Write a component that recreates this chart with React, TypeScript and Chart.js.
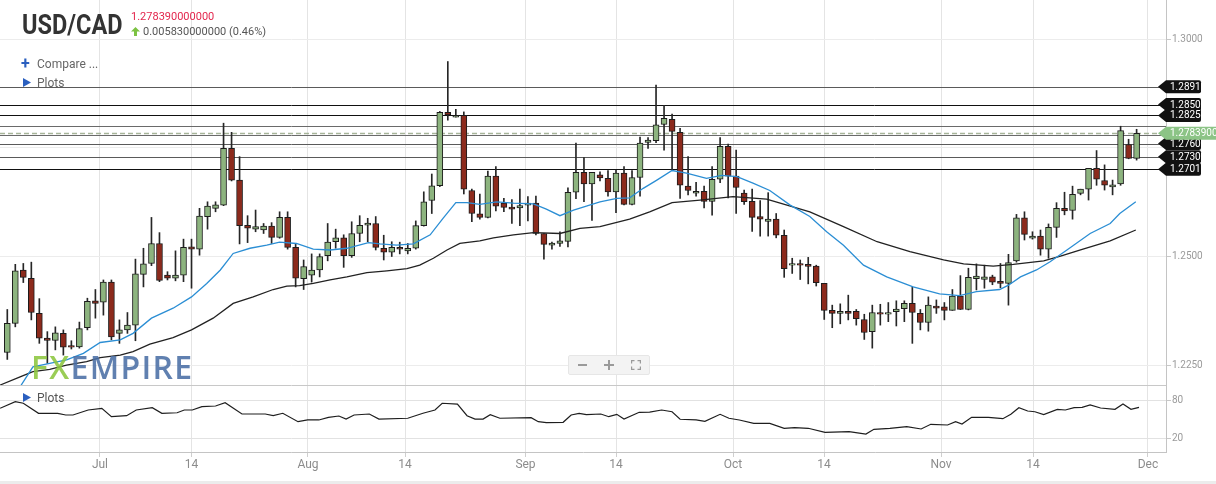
import React, { useEffect, useRef } from 'react';
import { Chart, registerables } from 'chart.js';

Chart.register(...registerables);
Chart.defaults.font.family = 'Roboto, sans-serif';

// ---------------- data ----------------
const opens = [
  1.2279, 1.2346, 1.2469, 1.2450, 1.2369, 1.2312, 1.2307, 1.2323, 1.2295, 1.2292,
  1.2336, 1.2398, 1.2395, 1.2441, 1.2323, 1.2331, 1.2342, 1.2459, 1.2484, 1.2530,
  1.2457, 1.2450, 1.2457, 1.2522, 1.2517, 1.2592, 1.2611, 1.2618, 1.2749, 1.2676,
  1.2572, 1.2563, 1.2561, 1.2570, 1.2544, 1.2590, 1.2521, 1.2449, 1.2457, 1.2469,
  1.2502, 1.2534, 1.2543, 1.2502, 1.2553, 1.2572, 1.2576, 1.2519, 1.2510, 1.2521,
  1.2513, 1.2519, 1.2571, 1.2629, 1.2663, 1.2832, 1.2821, 1.2825, 1.2652, 1.2598,
  1.2590, 1.2685, 1.2623, 1.2614, 1.2612, 1.2618, 1.2623, 1.2553, 1.2526, 1.2530,
  1.2535, 1.2648, 1.2694, 1.2667, 1.2688, 1.2680, 1.2649, 1.2692, 1.2620, 1.2682,
  1.2763, 1.2767, 1.2804, 1.2816, 1.2786, 1.2662, 1.2646, 1.2650, 1.2627, 1.2678,
  1.2754, 1.2685, 1.2646, 1.2627, 1.2592, 1.2581, 1.2586, 1.2549, 1.2480, 1.2484,
  1.2482, 1.2478, 1.2438, 1.2376, 1.2369, 1.2374, 1.2374, 1.2355, 1.2327, 1.2371,
  1.2367, 1.2373, 1.2380, 1.2392, 1.2369, 1.2348, 1.2386, 1.2384, 1.2376, 1.2409,
  1.2378, 1.2449, 1.2447, 1.2453, 1.2443, 1.2438, 1.2490, 1.2589, 1.2542, 1.2547,
  1.2517, 1.2567, 1.2611, 1.2606, 1.2645, 1.2655, 1.2703, 1.2675, 1.2660, 1.2667,
  1.2758, 1.2726,
];
const highs = [
  1.2378, 1.2482, 1.2484, 1.2487, 1.2403, 1.2327, 1.2338, 1.2331, 1.2306, 1.2349,
  1.2404, 1.2424, 1.2446, 1.2446, 1.2354, 1.2371, 1.2494, 1.2519, 1.2590, 1.2555,
  1.2465, 1.2513, 1.2540, 1.2540, 1.2611, 1.2626, 1.2626, 1.2807, 1.2786, 1.2730,
  1.2594, 1.2607, 1.2576, 1.2578, 1.2603, 1.2603, 1.2530, 1.2492, 1.2506, 1.2506,
  1.2576, 1.2563, 1.2550, 1.2580, 1.2594, 1.2588, 1.2592, 1.2549, 1.2534, 1.2533,
  1.2530, 1.2582, 1.2649, 1.2690, 1.2834, 1.2949, 1.2839, 1.2833, 1.2655, 1.2644,
  1.2697, 1.2707, 1.2634, 1.2631, 1.2655, 1.2638, 1.2639, 1.2553, 1.2533, 1.2557,
  1.2658, 1.2761, 1.2728, 1.2694, 1.2695, 1.2698, 1.2699, 1.2707, 1.2698, 1.2775,
  1.2774, 1.2895, 1.2848, 1.2828, 1.2795, 1.2730, 1.2671, 1.2662, 1.2707, 1.2774,
  1.2759, 1.2745, 1.2653, 1.2655, 1.2629, 1.2647, 1.2599, 1.2561, 1.2496, 1.2492,
  1.2498, 1.2480, 1.2438, 1.2388, 1.2391, 1.2411, 1.2378, 1.2367, 1.2388, 1.2390,
  1.2394, 1.2398, 1.2398, 1.2430, 1.2378, 1.2407, 1.2400, 1.2394, 1.2424, 1.2456,
  1.2473, 1.2483, 1.2480, 1.2457, 1.2484, 1.2505, 1.2597, 1.2603, 1.2557, 1.2561,
  1.2575, 1.2624, 1.2648, 1.2662, 1.2655, 1.2703, 1.2744, 1.2711, 1.2676, 1.2800,
  1.2770, 1.2793,
];
const lows = [
  1.2263, 1.2338, 1.2440, 1.2354, 1.2300, 1.2254, 1.2285, 1.2273, 1.2287, 1.2289,
  1.2331, 1.2358, 1.2365, 1.2308, 1.2300, 1.2323, 1.2306, 1.2430, 1.2479, 1.2442,
  1.2446, 1.2444, 1.2442, 1.2427, 1.2503, 1.2563, 1.2603, 1.2617, 1.2674, 1.2529,
  1.2532, 1.2557, 1.2553, 1.2530, 1.2542, 1.2517, 1.2430, 1.2424, 1.2441, 1.2453,
  1.2490, 1.2519, 1.2475, 1.2498, 1.2534, 1.2534, 1.2515, 1.2492, 1.2500, 1.2506,
  1.2506, 1.2517, 1.2570, 1.2599, 1.2661, 1.2814, 1.2821, 1.2644, 1.2580, 1.2586,
  1.2589, 1.2605, 1.2603, 1.2576, 1.2571, 1.2582, 1.2550, 1.2494, 1.2517, 1.2523,
  1.2522, 1.2633, 1.2626, 1.2583, 1.2674, 1.2639, 1.2601, 1.2619, 1.2619, 1.2639,
  1.2749, 1.2762, 1.2745, 1.2699, 1.2634, 1.2642, 1.2639, 1.2612, 1.2595, 1.2670,
  1.2635, 1.2599, 1.2620, 1.2558, 1.2547, 1.2547, 1.2543, 1.2452, 1.2461, 1.2447,
  1.2437, 1.2432, 1.2355, 1.2336, 1.2345, 1.2354, 1.2342, 1.2309, 1.2289, 1.2342,
  1.2350, 1.2340, 1.2350, 1.2300, 1.2331, 1.2328, 1.2369, 1.2354, 1.2376, 1.2378,
  1.2377, 1.2423, 1.2427, 1.2435, 1.2428, 1.2388, 1.2487, 1.2538, 1.2540, 1.2503,
  1.2496, 1.2544, 1.2596, 1.2586, 1.2642, 1.2630, 1.2664, 1.2653, 1.2642, 1.2664,
  1.2725, 1.2722,
];
const closes = [
  1.2346, 1.2467, 1.2452, 1.2371, 1.2312, 1.2307, 1.2324, 1.2291, 1.2291, 1.2334,
  1.2397, 1.2392, 1.2441, 1.2315, 1.2331, 1.2342, 1.2460, 1.2483, 1.2530, 1.2445,
  1.2450, 1.2457, 1.2521, 1.2517, 1.2593, 1.2616, 1.2619, 1.2749, 1.2676, 1.2571,
  1.2565, 1.2569, 1.2570, 1.2544, 1.2590, 1.2521, 1.2450, 1.2477, 1.2469, 1.2500,
  1.2533, 1.2543, 1.2502, 1.2553, 1.2572, 1.2577, 1.2521, 1.2510, 1.2521, 1.2517,
  1.2519, 1.2571, 1.2626, 1.2663, 1.2832, 1.2826, 1.2825, 1.2655, 1.2599, 1.2590,
  1.2685, 1.2616, 1.2613, 1.2609, 1.2617, 1.2623, 1.2553, 1.2528, 1.2531, 1.2536,
  1.2648, 1.2694, 1.2667, 1.2694, 1.2681, 1.2649, 1.2692, 1.2620, 1.2682, 1.2761,
  1.2768, 1.2803, 1.2818, 1.2788, 1.2664, 1.2652, 1.2650, 1.2627, 1.2678, 1.2754,
  1.2685, 1.2659, 1.2626, 1.2590, 1.2586, 1.2586, 1.2549, 1.2472, 1.2484, 1.2480,
  1.2477, 1.2440, 1.2376, 1.2369, 1.2374, 1.2369, 1.2357, 1.2325, 1.2371, 1.2367,
  1.2371, 1.2379, 1.2392, 1.2371, 1.2348, 1.2388, 1.2381, 1.2376, 1.2409, 1.2378,
  1.2452, 1.2455, 1.2453, 1.2441, 1.2438, 1.2486, 1.2589, 1.2551, 1.2547, 1.2517,
  1.2567, 1.2611, 1.2605, 1.2643, 1.2655, 1.2703, 1.2678, 1.2664, 1.2665, 1.2790,
  1.2726, 1.27839,
];

// fast (blue) moving average: candle position, value
const fastMaIdx = [1.6, 3.2, 5.3, 7.4, 9.5, 11.6, 14.1, 15.7, 18.0, 20.7, 23.0, 24.9, 26.6, 28.2, 30.3, 32.4, 34.0, 36.1, 38.2, 40.3, 42.4, 45.1, 46.5, 48.6, 50.7, 52.8, 54.4, 56.0, 57.4, 59.0, 61.1, 63.2, 65.7, 67.3, 69.0, 70.7, 74.0, 76.1, 77.7, 79.4, 81.1, 83.0, 84.8, 87.3, 89.2, 91.1, 93.1, 95.2, 97.7, 100.2, 102.3, 104.4, 106.9, 109.8, 113.1, 116.4, 118.9, 121.0, 123.9, 125.0, 126.5, 128.5, 130.2, 132.3, 135.2, 137.7, 138.9, 140.9];
const fastMaVal = [1.2200, 1.2246, 1.2254, 1.2262, 1.2277, 1.2302, 1.2308, 1.2323, 1.2358, 1.2381, 1.2407, 1.2438, 1.2469, 1.2507, 1.2519, 1.2526, 1.2533, 1.2530, 1.2517, 1.2515, 1.2519, 1.2532, 1.2529, 1.2526, 1.2529, 1.2550, 1.2588, 1.2624, 1.2624, 1.2620, 1.2626, 1.2623, 1.2621, 1.2609, 1.2594, 1.2607, 1.2626, 1.2634, 1.2635, 1.2657, 1.2676, 1.2698, 1.2692, 1.2680, 1.2687, 1.2684, 1.2669, 1.2652, 1.2619, 1.2592, 1.2557, 1.2526, 1.2480, 1.2453, 1.2430, 1.2414, 1.2410, 1.2419, 1.2424, 1.2434, 1.2453, 1.2469, 1.2488, 1.2515, 1.2553, 1.2576, 1.2599, 1.2626];

// slow (black) moving average
const slowMaIdx = [-0.9, 1.6, 3.2, 5.3, 7.4, 9.9, 11.6, 14.1, 15.7, 17.8, 20.7, 23.0, 25.7, 28.2, 30.7, 33.2, 34.9, 36.5, 38.2, 40.3, 42.4, 44.9, 47.4, 49.9, 51.5, 53.2, 54.9, 56.5, 59.0, 60.7, 63.2, 65.7, 69.0, 71.5, 74.0, 77.7, 80.2, 83.0, 86.5, 90.6, 94.8, 96.5, 100.2, 104.4, 108.6, 112.7, 116.9, 119.4, 123.1, 125.6, 129.4, 131.5, 134.0, 137.7, 140.9];
const slowMaVal = [1.2204, 1.2223, 1.2235, 1.2240, 1.2250, 1.2258, 1.2267, 1.2273, 1.2281, 1.2298, 1.2313, 1.2331, 1.2358, 1.2392, 1.2407, 1.2424, 1.2432, 1.2433, 1.2438, 1.2446, 1.2453, 1.2463, 1.2467, 1.2472, 1.2480, 1.2496, 1.2515, 1.2530, 1.2536, 1.2543, 1.2550, 1.2555, 1.2553, 1.2565, 1.2569, 1.2586, 1.2603, 1.2624, 1.2630, 1.2638, 1.2632, 1.2623, 1.2603, 1.2569, 1.2534, 1.2511, 1.2492, 1.2483, 1.2478, 1.2482, 1.2490, 1.2501, 1.2515, 1.2536, 1.2561];

// lower oscillator panel
const oscIdx = [-0.9, 1.0, 2.0, 3.9, 6.3, 7.3, 8.2, 10.1, 11.8, 13.0, 14.9, 16.1, 18.1, 19.3, 21.2, 22.1, 23.1, 24.3, 26.0, 27.2, 29.3, 32.2, 33.2, 34.4, 36.3, 37.5, 38.9, 40.1, 41.4, 42.3, 43.3, 45.2, 46.4, 50.0, 51.9, 53.4, 54.3, 56.2, 57.4, 58.4, 59.4, 60.3, 61.5, 65.4, 66.3, 67.3, 69.4, 70.4, 71.4, 72.3, 74.1, 75.1, 76.1, 77.0, 78.9, 80.2, 81.7, 83.0, 84.0, 86.0, 87.1, 89.0, 90.1, 91.4, 93.2, 95.2, 97.0, 98.3, 100.0, 102.1, 105.1, 107.2, 108.2, 110.2, 112.3, 114.1, 115.3, 117.4, 118.4, 119.2, 120.4, 122.5, 124.3, 125.3, 126.3, 127.4, 128.3, 129.4, 131.1, 132.1, 133.2, 134.2, 135.2, 136.5, 138.3, 139.3, 140.3, 141.3];
const oscVal = [67.6, 78.1, 75.6, 59.7, 59.7, 57.0, 57.0, 64.9, 67.6, 54.3, 55.9, 64.9, 68.6, 59.7, 60.6, 64.9, 64.9, 70.2, 71.3, 76.5, 58.6, 58.6, 55.9, 59.7, 46.4, 49.1, 49.1, 53.3, 55.4, 50.6, 57.0, 58.6, 50.6, 51.8, 59.7, 64.9, 75.6, 74.4, 55.9, 50.6, 50.6, 57.5, 51.8, 52.7, 46.4, 44.8, 45.4, 57.0, 59.7, 57.5, 58.6, 54.3, 58.1, 50.6, 61.3, 61.7, 64.9, 62.2, 50.2, 49.1, 47.0, 58.1, 51.8, 49.1, 43.8, 43.8, 35.9, 36.8, 35.9, 29.5, 30.5, 26.8, 34.3, 35.9, 38.4, 34.8, 42.2, 41.1, 46.4, 42.7, 53.3, 53.3, 51.1, 58.1, 68.6, 63.3, 62.2, 57.5, 66.0, 64.9, 68.6, 69.2, 72.9, 68.1, 66.0, 74.4, 66.0, 69.2];

// x axis ticks (candle positions of the date labels)
const xTickIdx = [11.57, 23.0, 37.54, 49.66, 64.7, 76.0, 90.61, 101.97, 116.58, 128.07, 142.42];
const xTickLabels = ['Jul', '14', 'Aug', '14', 'Sep', '14', 'Oct', '14', 'Nov', '14', 'Dec'];
const priceTicks = [1.225, 1.25, 1.275, 1.3];
const oscTicks = [20, 80];

// horizontal levels
const levelValues = [1.2891, 1.2850, 1.2825, 1.2800, 1.2780, 1.2760, 1.2730, 1.2701];
const levelLabels = ['1.2891', '1.2850', '1.2825', '', '', '1.2760', '1.2730', '1.2701'];
const lastPrice = 1.27839;
const lastPriceLabel = '1.2783900';

// ---------------- styles ----------------
const levelColors = ['#5a5a5a', '#111', '#111', '#6a6a6a', '#6a6a6a', '#5a5a5a', '#5a5a5a', '#111'];
const GREEN = '#8db47f';
const RED = '#8c2a1c';
const OUTLINE = '#1c1c1c';
const X_MIN = -0.911;
const X_MAX = 144.67;
const PRICE_MIN = 1.22041;
const PRICE_MAX = 1.30907;
const OSC_MIN = -1.73;
const OSC_MAX = 104.6;
const AXIS_W = 50;

const fixY = (s: any) => {
  s.width = AXIS_W;
  s.paddingTop = 0;
  s.paddingBottom = 0;
};

function drawTag(ctx: CanvasRenderingContext2D, cy: number, color: string, text: string, right: number) {
  const tip = 1158;
  const x0 = 1166;
  const h = 6.5;
  ctx.fillStyle = color;
  ctx.beginPath();
  ctx.moveTo(tip, cy);
  ctx.lineTo(x0, cy - h);
  ctx.lineTo(right - 2, cy - h);
  ctx.quadraticCurveTo(right, cy - h, right, cy - h + 2);
  ctx.lineTo(right, cy + h - 2);
  ctx.quadraticCurveTo(right, cy + h, right - 2, cy + h);
  ctx.lineTo(x0, cy + h);
  ctx.closePath();
  ctx.fill();
  ctx.fillStyle = '#fff';
  ctx.font = '10px Roboto, sans-serif';
  ctx.textBaseline = 'middle';
  ctx.textAlign = 'left';
  ctx.fillText(text, 1170, cy + 0.5);
}

const levelPlugin = {
  id: 'levels',
  beforeDatasetsDraw(chart: any) {
    const { ctx, chartArea: a, scales } = chart;
    const y = scales.y;
    ctx.save();
    ctx.lineWidth = 1;
    levelValues.forEach((v, i) => {
      const py = Math.round(y.getPixelForValue(v)) + 0.5;
      ctx.strokeStyle = levelColors[i];
      ctx.beginPath();
      ctx.moveTo(a.left, py);
      ctx.lineTo(a.right, py);
      ctx.stroke();
    });
    const cp = Math.round(y.getPixelForValue(lastPrice)) + 0.5;
    ctx.setLineDash([5, 3]);
    ctx.strokeStyle = '#a7b59a';
    ctx.lineWidth = 1.5;
    ctx.beginPath();
    ctx.moveTo(a.left, cp);
    ctx.lineTo(a.right, cp);
    ctx.stroke();
    ctx.restore();
  },
  afterDraw(chart: any) {
    const { ctx, scales } = chart;
    const y = scales.y;
    ctx.save();
    levelValues.forEach((v, i) => {
      if (!levelLabels[i]) return;
      drawTag(ctx, y.getPixelForValue(v), '#111', levelLabels[i], 1201);
    });
    drawTag(ctx, y.getPixelForValue(lastPrice), '#8cc486', lastPriceLabel, 1220);
    ctx.restore();
  },
};

const separatorPlugin = {
  id: 'separator',
  afterDraw(chart: any) {
    const { ctx, chartArea: a } = chart;
    ctx.save();
    ctx.strokeStyle = '#c8c8c8';
    ctx.lineWidth = 1;
    ctx.beginPath();
    ctx.moveTo(a.left, a.top + 0.5);
    ctx.lineTo(a.right, a.top + 0.5);
    ctx.stroke();
    ctx.restore();
  },
};

export default function App() {
  const mainRef = useRef<HTMLCanvasElement | null>(null);
  const oscRef = useRef<HTMLCanvasElement | null>(null);

  useEffect(() => {
    const bodyData = opens.map((o, i) => ({ x: i, y: [o, closes[i]] }));
    const wickData = opens.map((_, i) => ({ x: i, y: [lows[i], highs[i]] }));
    const bodyColors = opens.map((o, i) => (closes[i] >= o ? GREEN : RED));
    const fastData = fastMaIdx.map((x, i) => ({ x, y: fastMaVal[i] }));
    const slowData = slowMaIdx.map((x, i) => ({ x, y: slowMaVal[i] }));
    const oscData = oscIdx.map((x, i) => ({ x, y: oscVal[i] }));

    const main = new Chart(mainRef.current as HTMLCanvasElement, {
      type: 'bar',
      data: {
        datasets: [
          { type: 'line', label: 'MA fast', data: fastData, borderColor: '#2b8ed4', borderWidth: 1.3, pointRadius: 0, tension: 0, order: 0 } as any,
          { type: 'line', label: 'MA slow', data: slowData, borderColor: '#222', borderWidth: 1.3, pointRadius: 0, tension: 0, order: 1 } as any,
          { type: 'bar', label: 'body', data: bodyData, backgroundColor: bodyColors, borderColor: OUTLINE, borderWidth: 1, borderSkipped: false, barThickness: 6, grouped: false, order: 2 } as any,
          { type: 'bar', label: 'wick', data: wickData, backgroundColor: '#262626', barThickness: 1, grouped: false, order: 3 } as any,
        ],
      },
      options: {
        responsive: false,
        animation: false,
        events: [],
        layout: { padding: 0 },
        plugins: { legend: { display: false }, tooltip: { enabled: false } },
        scales: {
          x: {
            type: 'linear',
            min: X_MIN,
            max: X_MAX,
            offset: false,
            grid: { offset: false, color: '#e4e4e4', drawTicks: false },
            border: { display: false },
            ticks: { display: false },
            afterBuildTicks: (s: any) => { s.ticks = xTickIdx.map((v) => ({ value: v })); },
            afterFit: (s: any) => { s.height = 0; s.paddingLeft = 0; s.paddingRight = 0; },
          } as any,
          y: {
            position: 'right',
            min: PRICE_MIN,
            max: PRICE_MAX,
            grid: { color: '#ececec', tickLength: 5, tickColor: '#c8c8c8' },
            border: { display: true, color: '#c4c4c4' },
            ticks: {
              color: '#9a9a9a',
              font: { size: 10 },
              padding: 1,
              callback: (v: any) => (Math.abs(Number(v) - 1.275) < 1e-6 ? '' : Number(v).toFixed(4)),
            },
            afterBuildTicks: (s: any) => { s.ticks = priceTicks.map((v) => ({ value: v })); },
            afterFit: fixY,
          } as any,
        },
      },
      plugins: [levelPlugin],
    });

    const osc = new Chart(oscRef.current as HTMLCanvasElement, {
      type: 'line',
      data: {
        datasets: [
          { label: 'Oscillator', data: oscData, borderColor: '#1e1e1e', borderWidth: 1.2, pointRadius: 0, tension: 0 } as any,
        ],
      },
      options: {
        responsive: false,
        animation: false,
        events: [],
        layout: { padding: 0 },
        plugins: { legend: { display: false }, tooltip: { enabled: false } },
        scales: {
          x: {
            type: 'linear',
            min: X_MIN,
            max: X_MAX,
            offset: false,
            grid: { offset: false, color: '#e4e4e4', tickLength: 5, tickColor: '#cfcfcf' },
            border: { display: true, color: '#c4c4c4' },
            ticks: {
              color: '#8c8c8c',
              font: { size: 12 },
              padding: 1,
              maxRotation: 0,
              autoSkip: false,
              callback: (_v: any, i: number) => xTickLabels[i],
            },
            afterBuildTicks: (s: any) => { s.ticks = xTickIdx.map((v) => ({ value: v })); },
            afterFit: (s: any) => { s.height = 32; s.paddingLeft = 0; s.paddingRight = 0; },
          } as any,
          y: {
            position: 'right',
            min: OSC_MIN,
            max: OSC_MAX,
            grid: { color: '#e2e2e2', tickLength: 5, tickColor: '#c8c8c8' },
            border: { display: true, color: '#c4c4c4' },
            ticks: { color: '#9a9a9a', font: { size: 10 }, padding: 1 },
            afterBuildTicks: (s: any) => { s.ticks = oscTicks.map((v) => ({ value: v })); },
            afterFit: fixY,
          } as any,
        },
      },
      plugins: [separatorPlugin],
    });

    return () => {
      main.destroy();
      osc.destroy();
    };
  }, []);

  const txt: React.CSSProperties = { position: 'absolute', whiteSpace: 'nowrap', fontFamily: 'Roboto, sans-serif' };

  return (
    <div style={{ position: 'absolute', left: 0, top: 0, width: 1216, height: 484, background: '#fff', overflow: 'hidden' }}>
      <canvas ref={mainRef} width={1216} height={385} style={{ position: 'absolute', left: 0, top: 0 }} />
      <canvas ref={oscRef} width={1216} height={99} style={{ position: 'absolute', left: 0, top: 385 }} />

      {/* header */}
      <div style={{ ...txt, left: 22, top: 11, fontSize: 28, lineHeight: '28px', fontWeight: 700, color: '#333', transform: 'scaleX(0.84)', transformOrigin: 'left center' }}>USD/CAD</div>
      <div style={{ ...txt, left: 131, top: 11, fontSize: 11, lineHeight: '11px', color: '#e3264d' }}>1.278390000000</div>
      <div style={{ ...txt, left: 131, top: 26, fontSize: 11, lineHeight: '11px', color: '#555', display: 'flex', alignItems: 'center' }}>
        <svg width="9" height="9" viewBox="0 0 9 9" style={{ marginRight: 3 }}>
          <path d="M4.5 0 L9 4.5 L6 4.5 L6 9 L3 9 L3 4.5 L0 4.5 Z" fill="#7cc242" />
        </svg>
        0.005830000000 (0.46%)
      </div>

      <div style={{ ...txt, left: 21, top: 56, fontSize: 16, lineHeight: '16px', fontWeight: 700, color: '#2a5fbf' }}>+</div>
      <div style={{ ...txt, left: 37, top: 58, fontSize: 12, lineHeight: '12px', color: '#666' }}>Compare ...</div>
      <svg width="8" height="9" viewBox="0 0 8 9" style={{ position: 'absolute', left: 23, top: 78 }}>
        <path d="M0 0 L8 4.5 L0 9 Z" fill="#2a5fbf" />
      </svg>
      <div style={{ ...txt, left: 37, top: 77, fontSize: 12, lineHeight: '12px', color: '#666' }}>Plots</div>

      <svg width="8" height="9" viewBox="0 0 8 9" style={{ position: 'absolute', left: 23, top: 393 }}>
        <path d="M0 0 L8 4.5 L0 9 Z" fill="#2a5fbf" />
      </svg>
      <div style={{ ...txt, left: 37, top: 392, fontSize: 12, lineHeight: '12px', color: '#555' }}>Plots</div>

      {/* watermark */}
      <div style={{ ...txt, left: 31, top: 351, fontFamily: '"Open Sans", sans-serif', fontSize: 32, lineHeight: '32px', fontWeight: 600, letterSpacing: 1.3, opacity: 0.88 }}>
        <span style={{ color: '#8cc63f' }}>FX</span>
        <span style={{ color: '#4a6fa5' }}>EMPIRE</span>
      </div>

      {/* zoom controls */}
      <div style={{ position: 'absolute', left: 568, top: 355, width: 80, height: 18, background: '#f3f3f3', border: '1px solid #e6e6e6', borderRadius: 2, display: 'flex' }}>
        <div style={{ flex: 1, display: 'flex', alignItems: 'center', justifyContent: 'center' }}>
          <div style={{ width: 9, height: 2, background: '#9a9a9a' }} />
        </div>
        <div style={{ flex: 1, display: 'flex', alignItems: 'center', justifyContent: 'center', position: 'relative' }}>
          <div style={{ width: 10, height: 2, background: '#9a9a9a', position: 'absolute' }} />
          <div style={{ width: 2, height: 10, background: '#9a9a9a', position: 'absolute' }} />
        </div>
        <div style={{ flex: 1, display: 'flex', alignItems: 'center', justifyContent: 'center' }}>
          <svg width="10" height="10" viewBox="0 0 10 10">
            <path d="M0.5 3.5 V0.5 H3.5 M6.5 0.5 H9.5 V3.5 M9.5 6.5 V9.5 H6.5 M3.5 9.5 H0.5 V6.5" stroke="#9a9a9a" strokeWidth="1.4" fill="none" />
          </svg>
        </div>
      </div>

      <div style={{ position: 'absolute', left: 0, top: 481, width: 1216, height: 3, background: '#ececec' }} />
    </div>
  );
}
